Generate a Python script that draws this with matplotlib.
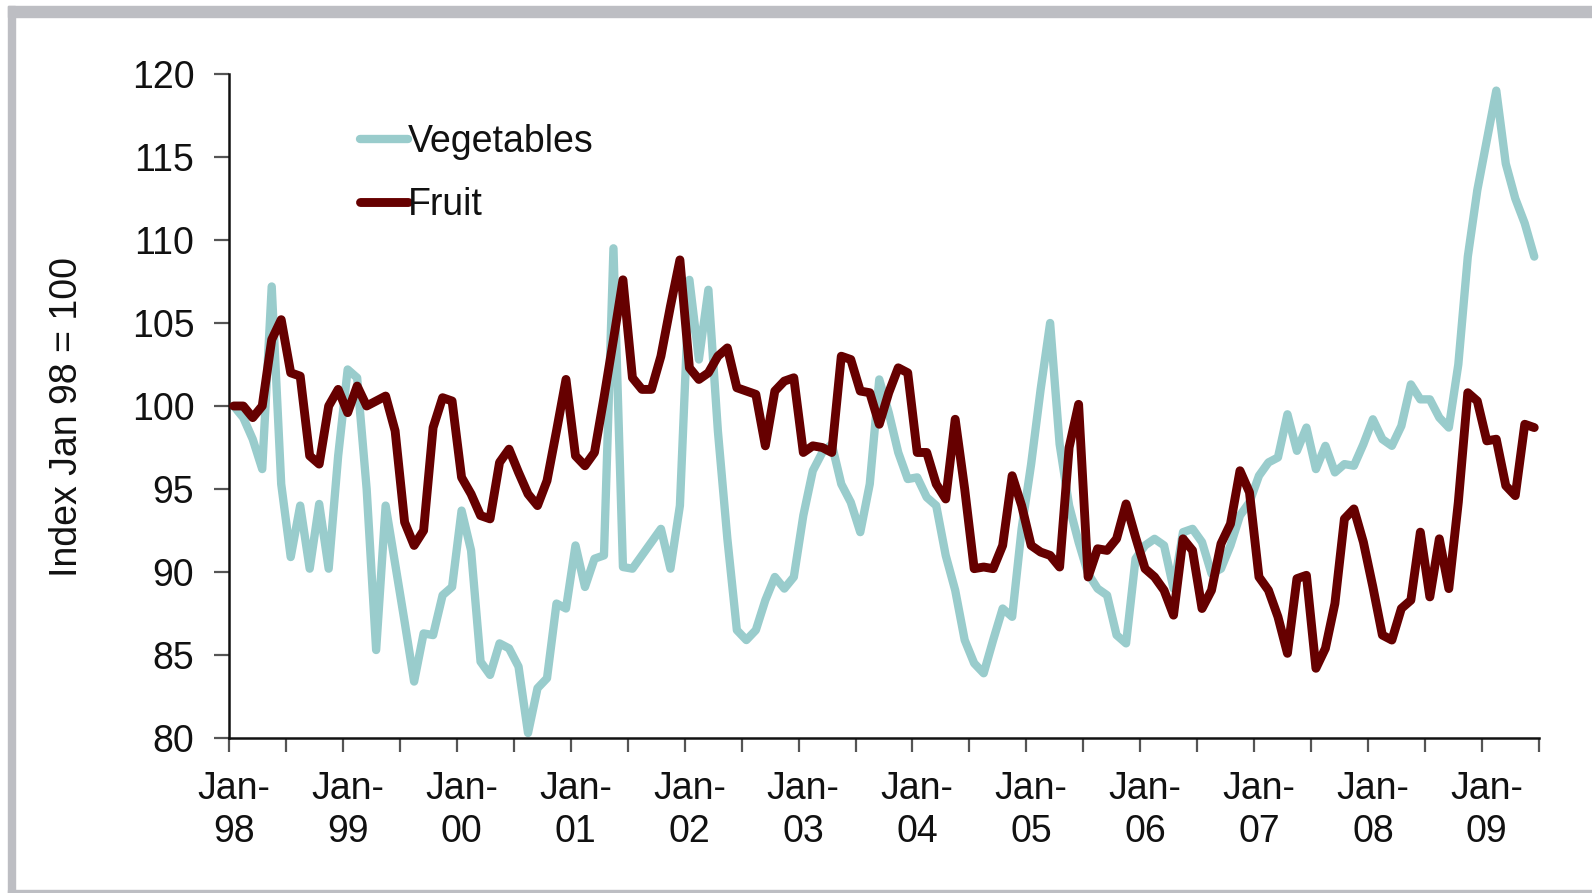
import numpy as np
import matplotlib
matplotlib.use("Agg")
import matplotlib.pyplot as plt
from matplotlib.patches import Rectangle

# ---------------- data (monthly index, Jan-98 = 100) ----------------
vegetables = [
    100, 99.3, 98, 96.2, 107.2, 95.3, 90.9, 94, 90.2, 94.1, 90.2, 97,
    102.2, 101.7, 95, 85.3, 94, 90.5, 87, 83.4, 86.3, 86.2, 88.6, 89.1,
    93.7, 91.3, 84.6, 83.8, 85.7, 85.4, 84.3, 80.3, 83, 83.6, 88.1, 87.8,
    91.6, 89.1, 90.8, 91, 109.5, 90.3, 90.2, 91, 91.8, 92.6, 90.2, 94,
    107.6, 102.8, 107, 98.5, 92, 86.5, 85.9, 86.5, 88.3, 89.7, 89, 89.7,
    93.4, 96.1, 97.2, 97.7, 95.3, 94.2, 92.4, 95.3, 101.6, 99.6, 97.2, 95.6,
    95.7, 94.5, 94, 91, 88.9, 85.9, 84.5, 83.9, 85.9, 87.8, 87.3, 92.6,
    96.5, 101, 105, 97.7, 94, 91.8, 89.9, 89, 88.6, 86.2, 85.7, 90.8,
    91.6, 92, 91.6, 89, 92.4, 92.6, 91.8, 89.9, 90.2, 91.6, 93.4, 94.2,
    95.8, 96.6, 96.9, 99.5, 97.3, 98.7, 96.2, 97.6, 96, 96.5, 96.4, 97.7,
    99.2, 98, 97.6, 98.8, 101.3, 100.4, 100.4, 99.3, 98.7, 102.5, 109, 113,
    116, 119, 114.6, 112.5, 111, 109,
]
fruit = [
    100, 100, 99.3, 100, 104, 105.2, 102, 101.8, 97, 96.5, 100, 101,
    99.6, 101.2, 100, 100.3, 100.6, 98.5, 93, 91.6, 92.5, 98.7, 100.5, 100.3,
    95.7, 94.7, 93.4, 93.2, 96.6, 97.4, 96, 94.7, 94, 95.5, 98.5, 101.6,
    97, 96.4, 97.2, 100.5, 104, 107.6, 101.7, 101, 101, 103, 106, 108.8,
    102.3, 101.6, 102, 103, 103.5, 101.1, 100.9, 100.7, 97.6, 100.9, 101.5, 101.7,
    97.2, 97.6, 97.5, 97.2, 103, 102.8, 100.9, 100.8, 98.9, 100.8, 102.3, 102,
    97.2, 97.2, 95.3, 94.4, 99.2, 95, 90.2, 90.3, 90.2, 91.6, 95.8, 94,
    91.6, 91.2, 91, 90.3, 97.5, 100.1, 89.7, 91.4, 91.3, 92, 94.1, 92.1,
    90.2, 89.7, 88.9, 87.4, 92, 91.3, 87.8, 88.9, 91.7, 92.9, 96.1, 94.8,
    89.7, 88.9, 87.3, 85.1, 89.6, 89.8, 84.2, 85.4, 88.1, 93.2, 93.8, 91.8,
    89.1, 86.2, 85.9, 87.8, 88.3, 92.4, 88.5, 92, 89, 94.2, 100.8, 100.3,
    97.9, 98, 95.2, 94.6, 98.9, 98.7,
]
year_labels = ["Jan-\n98", "Jan-\n99", "Jan-\n00", "Jan-\n01", "Jan-\n02", "Jan-\n03",
               "Jan-\n04", "Jan-\n05", "Jan-\n06", "Jan-\n07", "Jan-\n08", "Jan-\n09"]
y_ticks = [80, 85, 90, 95, 100, 105, 110, 115, 120]
series_names = ["Vegetables", "Fruit"]

# ---------------- figure ----------------
plt.rcParams["font.family"] = ["Liberation Sans", "DejaVu Sans"]
W, H = 1592, 893
fig = plt.figure(figsize=(W / 100, H / 100), dpi=100)
fig.patch.set_facecolor("white")

# grey frame (top, left, bottom)
frame_col = "#bdbec3"
fig.patches.append(Rectangle((8 / W, 1 - 17 / H), 1 - 8 / W, 11 / H,
                             transform=fig.transFigure, color=frame_col, zorder=0))
fig.patches.append(Rectangle((8 / W, 0), 7 / W, 1 - 6 / H,
                             transform=fig.transFigure, color=frame_col, zorder=0))
fig.patches.append(Rectangle((8 / W, 0), 1 - 8 / W, 3 / H,
                             transform=fig.transFigure, color=frame_col, zorder=0))

ax = fig.add_axes([229 / W, 1 - 738 / H, (1539 - 229) / W, (738 - 74) / H])

n = len(vegetables)
x = np.arange(n)
ax.plot(x, vegetables, color="#99cccc", lw=6.0, solid_joinstyle="round",
        solid_capstyle="round", label=series_names[0], zorder=2)
ax.plot(x, fruit, color="#660000", lw=6.4, solid_joinstyle="round",
        solid_capstyle="round", label=series_names[1], zorder=3)

ax.set_xlim(-0.5, n - 0.5)
ax.set_ylim(y_ticks[0], y_ticks[-1])

# y axis
ax.set_yticks(y_ticks)
ax.set_yticklabels([str(v) for v in y_ticks])
ax.tick_params(axis="y", direction="out", length=11, width=1.6, color="#555555",
               labelsize=27, pad=14, labelcolor="#111111")

# x axis: ticks every 6 months between categories, labels every 12 months
ax.set_xticks(np.arange(-0.5, n, 6))
ax.set_xticklabels([])
ax.tick_params(axis="x", which="major", direction="out", length=10, width=1.6,
               color="#555555")
ax.set_xticks(np.arange(0, n, 12), minor=True)
ax.set_xticklabels(year_labels, minor=True, fontsize=27, linespacing=1.25,
                   color="#111111")
ax.tick_params(axis="x", which="minor", length=0, pad=24)

for s in ["top", "right"]:
    ax.spines[s].set_visible(False)
for s in ["left", "bottom"]:
    ax.spines[s].set_linewidth(1.8)
    ax.spines[s].set_color("#111111")

fig.text(67 / W, 1 - 417 / H, "Index Jan 98 = 100", rotation=90, fontsize=27,
         ha="center", va="center", color="#111111")

leg = ax.legend(loc="upper left", bbox_to_anchor=(360 / W, 1 - 124 / H),
                bbox_transform=fig.transFigure, frameon=False, fontsize=27,
                handlelength=1.28, handletextpad=0.0, borderpad=0,
                borderaxespad=0, labelspacing=0.72)
for t in leg.get_texts():
    t.set_color("#111111")

fig.savefig("out.png", dpi=100, facecolor="white")
